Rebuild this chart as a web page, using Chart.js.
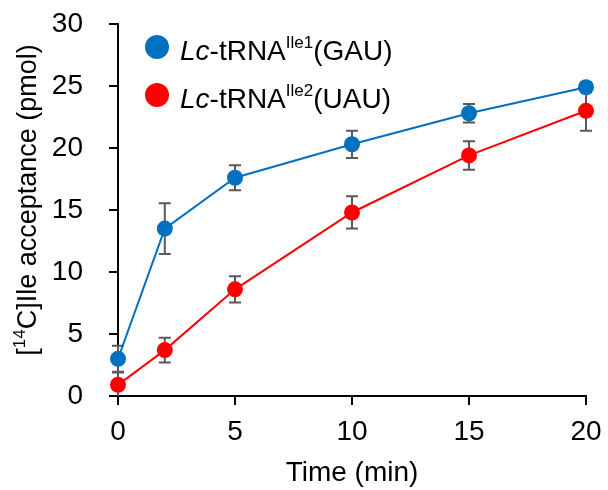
<!DOCTYPE html>
<html>
<head>
<meta charset="utf-8">
<script src="https://cdn.jsdelivr.net/npm/chart.js@4"></script>
<style>
  html, body { margin: 0; padding: 0; background: #fff; }
  #wrap { width: 608px; height: 490px; position: relative; }
</style>
</head>
<body>
<div id="wrap"><canvas id="chart"></canvas></div>
<script>
// Dados
const timeMin = [0, 2, 5, 10, 15, 20];
const gauMean = [3.0, 13.5, 17.6, 20.3, 22.8, 24.9];
const gauErr  = [1.05, 2.05, 1.0, 1.1, 0.75, 0.4];
const uauMean = [0.9, 3.7, 8.6, 14.8, 19.4, 23.0];
const uauErr  = [1.0, 1.0, 1.05, 1.3, 1.15, 1.6];
const xTicks = [0, 5, 10, 15, 20];
const yTicks = [0, 5, 10, 15, 20, 25, 30];

const FONT = "'Liberation Sans', Arial, sans-serif";
const colors = {
  blue: '#0070C0',
  red:  '#FF0000',
  err:  '#595959',
  axis: '#000000'
};

// Barras de erro (desenhadas antes dos pontos)
const errorBars = {
  id: 'errorBars',
  beforeDatasetsDraw(chart) {
    const { ctx, scales: { x, y } } = chart;
    ctx.save();
    ctx.strokeStyle = colors.err;
    ctx.lineWidth = 2;
    chart.data.datasets.forEach(ds => {
      ds.data.forEach((p, i) => {
        const e = ds.errors[i];
        const px = x.getPixelForValue(p.x);
        const top = y.getPixelForValue(p.y + e);
        const bot = y.getPixelForValue(Math.max(p.y - e, 0));
        ctx.beginPath();
        ctx.moveTo(px, top); ctx.lineTo(px, bot);
        ctx.moveTo(px - 6, top); ctx.lineTo(px + 6, top);
        if (p.y - e > 0) { ctx.moveTo(px - 6, bot); ctx.lineTo(px + 6, bot); }
        ctx.stroke();
      });
    });
    ctx.restore();
  }
};

// Texto com sobrescrito, legenda e títulos
function drawRich(ctx, parts, x, y) {
  let cx = x;
  parts.forEach(pt => {
    ctx.font = pt.font;
    ctx.fillText(pt.t, cx, y + (pt.dy || 0));
    cx += ctx.measureText(pt.t).width;
  });
  return cx - x;
}
function richWidth(ctx, parts) {
  return parts.reduce((w, pt) => { ctx.font = pt.font; return w + ctx.measureText(pt.t).width; }, 0);
}

const annotations = {
  id: 'annotations',
  afterDraw(chart) {
    const { ctx } = chart;
    const big = `28px ${FONT}`;
    const ital = `italic 28px ${FONT}`;
    const sup = `17px ${FONT}`;
    ctx.save();
    ctx.fillStyle = '#000';
    ctx.textBaseline = 'alphabetic';
    ctx.textAlign = 'left';

    // legenda
    const rows = [
      { c: colors.blue, y: 47, s: 'Ile1', tail: '(GAU)' },
      { c: colors.red,  y: 95, s: 'Ile2', tail: '(UAU)' }
    ];
    rows.forEach(r => {
      ctx.fillStyle = r.c;
      ctx.beginPath(); ctx.arc(157, r.y, 12, 0, Math.PI * 2); ctx.fill();
      ctx.fillStyle = '#000';
      drawRich(ctx, [
        { t: 'Lc', font: ital },
        { t: '-tRNA', font: big },
        { t: r.s, font: sup, dy: -12 },
        { t: r.tail, font: big }
      ], 180, r.y + 13);
    });

    // título do eixo y
    const yParts = [
      { t: '[', font: `27px ${FONT}` },
      { t: '14', font: sup, dy: -11 },
      { t: 'C]Ile acceptance (pmol)', font: `27px ${FONT}` }
    ];
    const w = richWidth(ctx, yParts);
    ctx.translate(36, 200);
    ctx.rotate(-Math.PI / 2);
    drawRich(ctx, yParts, -w / 2, 0);
    ctx.restore();

    // título do eixo x
    ctx.save();
    ctx.font = big;
    ctx.textAlign = 'center';
    ctx.fillStyle = '#000';
    ctx.fillText('Time (min)', 352, 481);
    ctx.restore();
  }
};

function makeSet(label, means, errs, color) {
  return {
    label,
    data: timeMin.map((t, i) => ({ x: t, y: means[i] })),
    errors: errs,
    borderColor: color,
    backgroundColor: color,
    borderWidth: 2,
    pointRadius: 8,
    pointBorderWidth: 0,
    pointBackgroundColor: color,
    tension: 0,
    clip: false
  };
}

new Chart(document.getElementById('chart'), {
  type: 'line',
  data: {
    datasets: [
      makeSet('Lc-tRNAIle1(GAU)', gauMean, gauErr, colors.blue),
      makeSet('Lc-tRNAIle2(UAU)', uauMean, uauErr, colors.red)
    ]
  },
  options: {
    responsive: true,
    maintainAspectRatio: false,
    animation: false,
    layout: { padding: { left: 0, right: 22, top: 24, bottom: 0 } },
    plugins: { legend: { display: false }, tooltip: { enabled: false } },
    scales: {
      x: {
        type: 'linear',
        min: 0, max: 20,
        afterFit(scale) { scale.height = 94; scale.paddingLeft = 0; scale.paddingRight = 0; },
        afterBuildTicks(scale) { scale.ticks = xTicks.map(v => ({ value: v })); },
        border: { color: colors.axis, width: 2 },
        grid: { drawOnChartArea: false, tickLength: 9, tickColor: colors.axis, lineWidth: 2 },
        ticks: { color: '#000', font: { family: FONT, size: 28 }, padding: 10, maxRotation: 0 }
      },
      y: {
        min: 0, max: 30,
        afterFit(scale) { scale.width = 118; scale.paddingTop = 0; scale.paddingBottom = 0; },
        afterBuildTicks(scale) { scale.ticks = yTicks.map(v => ({ value: v })); },
        border: { color: colors.axis, width: 2 },
        grid: { drawOnChartArea: false, tickLength: 9, tickColor: colors.axis, lineWidth: 2 },
        ticks: { color: '#000', font: { family: FONT, size: 28 }, padding: 26 }
      }
    }
  },
  plugins: [errorBars, annotations]
});
</script>
</body>
</html>
